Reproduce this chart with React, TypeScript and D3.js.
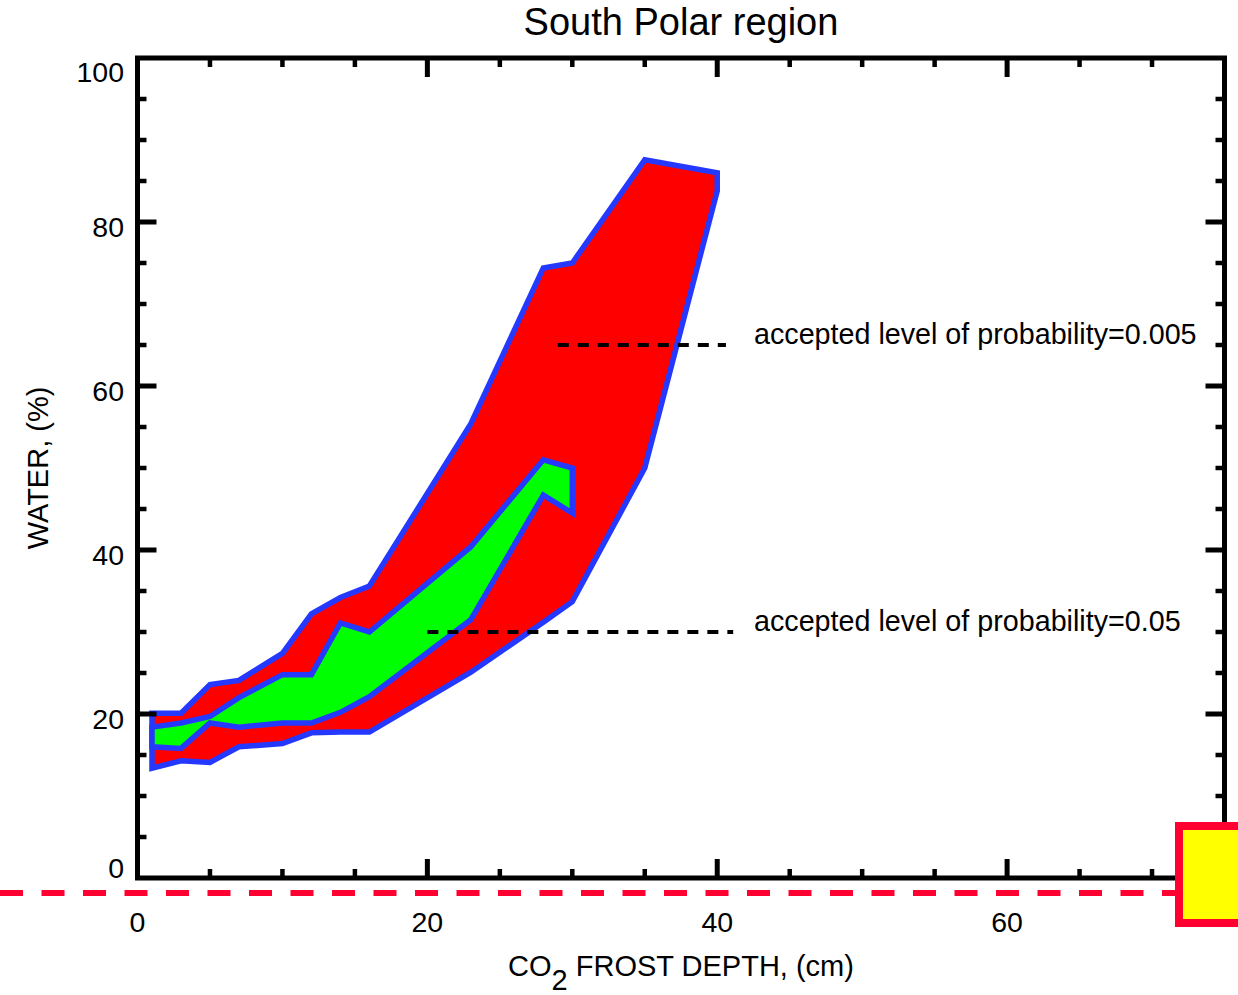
import React from "react";
import * as d3 from "d3";

// Frost depth (cm) sampled along each confidence region
const depthOuter = [1, 3, 5, 7, 10, 12, 14, 16, 23, 28, 30, 35, 40];
// p = 0.005 region: upper and lower water-content bounds (%)
const outerUpper = [20.1, 20.1, 23.6, 24.1, 27.4, 32.2, 34.2, 35.6, 55.4, 74.4, 75.0, 87.6, 86.0];
const outerLower = [13.4, 14.3, 14.1, 16.0, 16.4, 17.7, 17.8, 17.8, 25.1, 31.2, 33.7, 50.0, 83.8];

const depthInner = [1, 3, 5, 7, 10, 12, 14, 16, 23, 28, 30];
// p = 0.05 region: upper and lower water-content bounds (%)
const innerUpper = [18.4, 18.9, 19.7, 22.0, 24.8, 24.8, 31.1, 30.0, 40.4, 51.0, 50.0];
const innerLower = [16.0, 15.8, 18.9, 18.4, 18.9, 18.9, 20.2, 22.1, 31.5, 46.7, 44.5];

// Probability level markers
const levelLabels = ["accepted level of probability=0.005", "accepted level of probability=0.05"];
const levelWater = [65, 30];
const levelFrom = [29, 20];
const levelTo = [40.6, 41.1];

const xMajorTicks = [0, 20, 40, 60];
const yMajorTicks = [0, 20, 40, 60, 80, 100];

const W = 1238;
const H = 995;
const left = 137.5;
const right = 1224.5;
const top = 58;
const bottom = 878;

const FONT = "'Liberation Sans', Arimo, Helvetica, Arial, sans-serif";
const BLUE = "#2438ff";
const INK = "#000";

export default function App() {
  const x = d3.scaleLinear().domain([0, 75]).range([left, right]);
  const y = d3.scaleLinear().domain([0, 100]).range([bottom, top]);

  const xMinor = d3.range(5, 75, 5).filter((v) => v % 20 !== 0);
  const yMinor = d3.range(5, 100, 5).filter((v) => v % 20 !== 0);
  const xMajorInner = xMajorTicks.filter((v) => v > 0);
  const yMajorInner = yMajorTicks.filter((v) => v > 0 && v < 100);

  const line = d3
    .line<[number, number]>()
    .x((d) => x(d[0]))
    .y((d) => y(d[1]))
    .curve(d3.curveLinearClosed);

  const region = (xs: number[], up: number[], lo: number[]) => {
    const pts: [number, number][] = xs.map((v, i) => [v, up[i]]);
    for (let i = xs.length - 1; i >= 0; i--) pts.push([xs[i], lo[i]]);
    return line(pts) || "";
  };

  const majorLen = 19;
  const minorLen = 9;

  return (
    <div style={{ position: "absolute", left: 0, top: 0 }}>
      <svg width={W} height={H} style={{ display: "block", background: "#fff" }}>
        {/* confidence regions */}
        <path
          d={region(depthOuter, outerUpper, outerLower)}
          fill="#ff0000"
          stroke={BLUE}
          strokeWidth={5.5}
          strokeLinejoin="miter"
        />
        <path
          d={region(depthInner, innerUpper, innerLower)}
          fill="#00ff00"
          stroke={BLUE}
          strokeWidth={5.5}
          strokeLinejoin="miter"
        />

        {/* probability level markers */}
        {levelWater.map((v, i) => (
          <g key={i}>
            <line
              x1={x(levelFrom[i])}
              x2={x(levelTo[i])}
              y1={y(v)}
              y2={y(v)}
              stroke={INK}
              strokeWidth={4}
              strokeDasharray="11 9"
            />
            <text x={754} y={y(v) - 1} fontFamily={FONT} fontSize={28.7} fill={INK}>
              {levelLabels[i]}
            </text>
          </g>
        ))}

        {/* frame */}
        <rect
          x={left}
          y={top}
          width={right - left}
          height={bottom - top}
          fill="none"
          stroke={INK}
          strokeWidth={5}
        />

        {/* x ticks, bottom and top */}
        {xMinor.map((v) => (
          <g key={"xm" + v} stroke={INK} strokeWidth={4.5}>
            <line x1={x(v)} x2={x(v)} y1={bottom} y2={bottom - minorLen} />
            <line x1={x(v)} x2={x(v)} y1={top} y2={top + minorLen} />
          </g>
        ))}
        {xMajorInner.map((v) => (
          <g key={"xM" + v} stroke={INK} strokeWidth={5}>
            <line x1={x(v)} x2={x(v)} y1={bottom} y2={bottom - majorLen} />
            <line x1={x(v)} x2={x(v)} y1={top} y2={top + majorLen} />
          </g>
        ))}

        {/* y ticks, left and right */}
        {yMinor.map((v) => (
          <g key={"ym" + v} stroke={INK} strokeWidth={4.5}>
            <line x1={left} x2={left + minorLen} y1={y(v)} y2={y(v)} />
            <line x1={right} x2={right - minorLen} y1={y(v)} y2={y(v)} />
          </g>
        ))}
        {yMajorInner.map((v) => (
          <g key={"yM" + v} stroke={INK} strokeWidth={5}>
            <line x1={left} x2={left + majorLen} y1={y(v)} y2={y(v)} />
            <line x1={right} x2={right - majorLen} y1={y(v)} y2={y(v)} />
          </g>
        ))}

        {/* tick labels */}
        {xMajorTicks.map((v) => (
          <text
            key={"xl" + v}
            x={x(v)}
            y={932}
            textAnchor="middle"
            fontFamily={FONT}
            fontSize={28.5}
            fill={INK}
          >
            {v}
          </text>
        ))}
        {yMajorTicks.map((v) => (
          <text
            key={"yl" + v}
            x={124}
            y={Math.min(Math.max(y(v) + 15, top + 24), bottom)}
            textAnchor="end"
            fontFamily={FONT}
            fontSize={28.5}
            fill={INK}
          >
            {v}
          </text>
        ))}

        {/* titles */}
        <text
          x={(left + right) / 2}
          y={35}
          textAnchor="middle"
          fontFamily={FONT}
          fontSize={38}
          fill={INK}
        >
          South Polar region
        </text>
        <text
          x={(left + right) / 2}
          y={976}
          textAnchor="middle"
          fontFamily={FONT}
          fontSize={29}
          fill={INK}
        >
          CO
          <tspan dy={14}>2</tspan>
          <tspan dy={-14}> FROST DEPTH, (cm)</tspan>
        </text>
        <text
          transform={`translate(48, ${(top + bottom) / 2}) rotate(-90)`}
          textAnchor="middle"
          fontFamily={FONT}
          fontSize={29}
          fill={INK}
        >
          WATER, (%)
        </text>

        {/* highlight overlay */}
        <line
          x1={0}
          x2={1175}
          y1={893}
          y2={893}
          stroke="#ff0030"
          strokeWidth={6}
          strokeDasharray="23 18.5"
        />
        <rect x={1179} y={826} width={70} height={97} fill="#ffff00" stroke="#ff0030" strokeWidth={8} />
      </svg>
    </div>
  );
}
